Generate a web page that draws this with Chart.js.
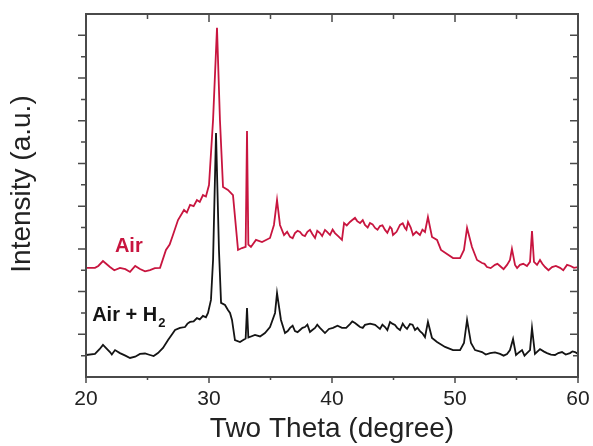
<!DOCTYPE html>
<html>
<head>
<meta charset="utf-8">
<script src="https://cdn.jsdelivr.net/npm/chart.js@4/dist/chart.umd.min.js"></script>
<style>
  html, body { margin: 0; padding: 0; background: #fff; }
  #wrap { width: 593px; height: 446px; }
</style>
</head>
<body>
<div id="wrap"><canvas id="xrd" width="593" height="446"></canvas></div>
<script>
const FONT = "'Liberation Sans', Arial, sans-serif";

// Air sample
const airTheta = [
  20.0, 20.73, 21.0, 21.38, 21.95, 22.3, 22.76, 23.2, 23.58, 24.0,
  24.39, 24.8, 25.2, 25.6, 26.02, 26.5, 26.8, 27.07, 27.48, 27.97,
  28.2, 28.46, 28.75, 29.02, 29.25, 29.51, 29.75, 30.0, 30.33, 30.65,
  30.89, 31.14, 31.54, 31.95, 32.36, 32.68, 32.98, 33.09, 33.2, 33.41,
  33.82, 34.31, 34.96, 35.28, 35.53, 35.77, 36.1, 36.35, 36.59, 36.8,
  36.99, 37.2, 37.4, 37.6, 37.8, 38.0, 38.21, 38.4, 38.62, 38.8,
  39.02, 39.2, 39.43, 39.6, 39.84, 40.05, 40.24, 40.5, 40.81, 40.98,
  41.2, 41.46, 41.65, 41.87, 42.05, 42.28, 42.5, 42.68, 42.9, 43.09,
  43.3, 43.5, 43.7, 43.9, 44.1, 44.31, 44.5, 44.72, 44.85, 44.96,
  45.25, 45.53, 45.75, 45.93, 46.05, 46.18, 46.4, 46.59, 46.85, 47.15,
  47.35, 47.56, 47.8, 48.13, 48.54, 48.86, 49.35, 49.84, 50.41, 50.73,
  50.98, 51.38, 51.79, 52.2, 52.4, 52.6, 52.9, 53.25, 53.45, 53.66,
  53.95, 54.23, 54.47, 54.63, 54.88, 55.05, 55.28, 55.55, 55.85, 56.1,
  56.26, 56.42, 56.67, 56.91, 57.1, 57.32, 57.6, 57.89, 58.2, 58.54,
  58.8, 59.11, 59.4, 59.67, 60.0];
const airIntensity = [
  5.11, 5.11, 5.2, 5.43, 5.15, 5.0, 5.11, 5.05, 4.92, 5.2,
  5.06, 4.95, 5.01, 5.1, 5.11, 5.95, 6.2, 6.65, 7.35, 7.82,
  7.7, 8.06, 8.0, 8.29, 8.2, 8.52, 8.45, 8.99, 12.04, 16.35,
  12.04, 8.9, 8.76, 8.52, 5.95, 6.04, 6.1, 11.52, 6.2, 6.09,
  6.42, 6.32, 6.51, 7.12, 8.29, 7.12, 6.65, 6.8, 6.56, 6.5,
  6.74, 6.85, 6.79, 6.65, 6.6, 6.8, 6.89, 6.7, 6.51, 6.85,
  6.74, 6.6, 6.89, 6.8, 6.65, 6.9, 6.74, 6.6, 6.42, 7.21,
  7.1, 7.26, 7.35, 7.45, 7.3, 7.21, 7.35, 7.12, 7.0, 7.21,
  7.15, 6.98, 6.9, 7.07, 7.1, 6.89, 6.75, 7.03, 6.95, 6.65,
  6.8, 7.12, 7.2, 6.98, 6.9, 7.26, 7.0, 6.65, 6.8, 6.65,
  6.9, 6.79, 7.49, 6.56, 6.42, 5.95, 5.76, 5.57, 5.57, 5.95,
  6.98, 6.09, 5.48, 5.34, 5.3, 5.15, 5.1, 5.25, 5.3, 5.2,
  5.05, 5.25, 5.48, 6.0, 5.25, 5.1, 5.25, 5.3, 5.2, 5.39,
  6.84, 5.39, 5.25, 5.48, 5.3, 5.15, 5.0, 5.15, 5.2, 5.11,
  5.0, 5.25, 5.2, 5.11, 5.15];

// Air + H2 sample
const h2Theta = [
  20.0, 20.73, 21.1, 21.38, 21.95, 22.1, 22.36, 22.76, 23.2, 23.58,
  24.0, 24.39, 24.8, 25.2, 25.5, 25.85, 26.26, 26.67, 27.0, 27.24,
  27.64, 28.05, 28.25, 28.46, 28.75, 29.02, 29.25, 29.51, 29.75, 29.92,
  30.16, 30.33, 30.57, 30.81, 30.98, 31.3, 31.54, 31.71, 31.87, 32.11,
  32.52, 32.98, 33.09, 33.2, 33.74, 34.15, 34.55, 34.96, 35.37, 35.53,
  35.85, 36.18, 36.4, 36.59, 36.8, 36.99, 37.2, 37.4, 37.6, 37.8,
  38.0, 38.21, 38.4, 38.62, 38.8, 39.02, 39.2, 39.43, 39.75, 40.08,
  40.45, 40.81, 41.15, 41.46, 41.65, 41.87, 42.05, 42.28, 42.5, 42.68,
  43.1, 43.5, 43.7, 43.9, 44.1, 44.31, 44.5, 44.72, 44.9, 45.12,
  45.3, 45.53, 45.75, 45.93, 46.1, 46.34, 46.55, 46.75, 46.95, 47.15,
  47.35, 47.56, 47.8, 48.13, 48.54, 49.19, 49.84, 50.41, 50.73, 50.98,
  51.3, 51.63, 52.2, 52.5, 52.85, 53.25, 53.66, 53.95, 54.23, 54.47,
  54.72, 54.96, 55.2, 55.45, 55.65, 55.85, 56.1, 56.26, 56.5, 56.91,
  57.2, 57.48, 57.8, 58.13, 58.4, 58.7, 59.0, 59.35, 59.55, 59.76,
  60.0];
const h2Intensity = [
  1.03, 1.08, 1.3, 1.5, 1.17, 1.05, 1.26, 1.12, 1.0, 0.89,
  0.95, 1.08, 1.1, 1.03, 0.98, 1.12, 1.36, 1.73, 2.0, 2.2,
  2.3, 2.34, 2.5, 2.58, 2.6, 2.76, 2.7, 2.86, 2.8, 3.0,
  3.61, 5.48, 11.43, 5.95, 3.47, 3.37, 3.14, 3.0, 2.67, 1.73,
  1.64, 1.8, 3.23, 1.85, 1.97, 1.9, 2.06, 2.34, 3.0, 3.93,
  2.67, 2.06, 2.15, 2.3, 2.4, 2.15, 2.1, 2.2, 2.3, 2.34,
  2.45, 2.11, 2.2, 2.3, 2.45, 2.3, 2.2, 2.06, 2.25, 2.3,
  2.4, 2.3, 2.3, 2.48, 2.6, 2.53, 2.45, 2.34, 2.3, 2.44,
  2.5, 2.44, 2.35, 2.25, 2.45, 2.34, 2.2, 2.58, 2.5, 2.44,
  2.3, 2.2, 2.5, 2.34, 2.25, 2.48, 2.45, 2.2, 2.3, 2.15,
  2.05, 1.87, 2.58, 1.83, 1.64, 1.41, 1.26, 1.26, 1.59, 2.67,
  1.59, 1.26, 1.17, 1.05, 1.12, 1.15, 1.08, 1.0, 1.08, 1.26,
  1.78, 1.03, 1.15, 1.26, 1.0, 1.12, 1.26, 2.3, 1.08, 1.31,
  1.2, 1.12, 1.05, 1.03, 1.12, 1.17, 1.05, 1.12, 1.2, 1.17,
  1.08];

const xTicks = [20, 30, 40, 50, 60];
const xMinorTicks = [25, 35, 45, 55];
const yTickCount = 17;

const AIR_COLOR = '#c8153f';
const H2_COLOR = '#141414';
const FRAME = '#4a4a4a';

function pairs(xs, ys) {
    return xs.map((x, i) => ({ x: x, y: ys[i] }));
}

const framePlugin = {
    id: 'frame',
    afterDraw(chart) {
        const ctx = chart.ctx;
        const a = chart.chartArea;
        const xs = chart.scales.x;
        const ys = chart.scales.y;
        ctx.save();
        ctx.strokeStyle = FRAME;
        ctx.lineWidth = 2;
        ctx.strokeRect(a.left, a.top, a.right - a.left, a.bottom - a.top);

        ctx.lineWidth = 1.5;
        ctx.beginPath();
        xTicks.forEach(v => {
            const px = xs.getPixelForValue(v);
            ctx.moveTo(px, a.bottom); ctx.lineTo(px, a.bottom + 6);
            ctx.moveTo(px, a.top); ctx.lineTo(px, a.top + 8);
        });
        xMinorTicks.forEach(v => {
            const px = xs.getPixelForValue(v);
            ctx.moveTo(px, a.bottom); ctx.lineTo(px, a.bottom + 3);
            ctx.moveTo(px, a.top); ctx.lineTo(px, a.top + 5);
        });
        for (let v = 1; v < yTickCount; v++) {
            const py = ys.getPixelForValue(v);
            const len = v % 2 === 0 ? 8 : 5;
            ctx.moveTo(a.left - len, py); ctx.lineTo(a.left, py);
            ctx.moveTo(a.right - len, py); ctx.lineTo(a.right, py);
        }
        ctx.stroke();

        // series labels
        ctx.textBaseline = 'alphabetic';
        ctx.textAlign = 'left';
        ctx.font = 'bold 20px ' + FONT;
        ctx.fillStyle = AIR_COLOR;
        ctx.fillText('Air', xs.getPixelForValue(22.35), ys.getPixelForValue(5.85));

        ctx.fillStyle = H2_COLOR;
        const lx = xs.getPixelForValue(20.5);
        const ly = ys.getPixelForValue(2.6);
        ctx.fillText('Air + H', lx, ly);
        const w = ctx.measureText('Air + H').width;
        ctx.font = 'bold 13px ' + FONT;
        ctx.fillText('2', lx + w + 1, ly + 6);

        // y axis title
        ctx.font = '28px ' + FONT;
        ctx.fillStyle = '#222';
        ctx.textAlign = 'center';
        ctx.textBaseline = 'middle';
        ctx.translate(22, 184);
        ctx.rotate(-Math.PI / 2);
        ctx.fillText('Intensity (a.u.)', 0, 0);
        ctx.restore();
    }
};

new Chart(document.getElementById('xrd'), {
    type: 'line',
    data: {
        datasets: [
            {
                label: 'Air',
                data: pairs(airTheta, airIntensity),
                borderColor: AIR_COLOR,
                borderWidth: 1.8,
                pointRadius: 0,
                tension: 0
            },
            {
                label: 'Air + H2',
                data: pairs(h2Theta, h2Intensity),
                borderColor: H2_COLOR,
                borderWidth: 1.8,
                pointRadius: 0,
                tension: 0
            }
        ]
    },
    options: {
        responsive: false,
        animation: false,
        layout: { padding: { top: 14, right: 15, left: 0, bottom: 0 } },
        plugins: { legend: { display: false }, tooltip: { enabled: false } },
        scales: {
            x: {
                type: 'linear',
                min: 20,
                max: 60,
                grid: { display: false, drawTicks: false },
                border: { display: false },
                ticks: {
                    stepSize: 10,
                    padding: 10,
                    maxRotation: 0,
                    color: '#222',
                    font: { family: FONT, size: 21 }
                },
                title: {
                    display: true,
                    text: 'Two Theta (degree)',
                    color: '#222',
                    padding: { top: 0, bottom: 0 },
                    font: { family: FONT, size: 28 }
                },
                afterFit(scale) {
                    scale.height = 69;
                    scale.paddingLeft = 0;
                    scale.paddingRight = 0;
                }
            },
            y: {
                min: 0,
                max: yTickCount,
                grid: { display: false, drawTicks: false },
                border: { display: false },
                ticks: { display: false },
                afterFit(scale) { scale.width = 86; }
            }
        }
    },
    plugins: [framePlugin]
});
</script>
</body>
</html>
